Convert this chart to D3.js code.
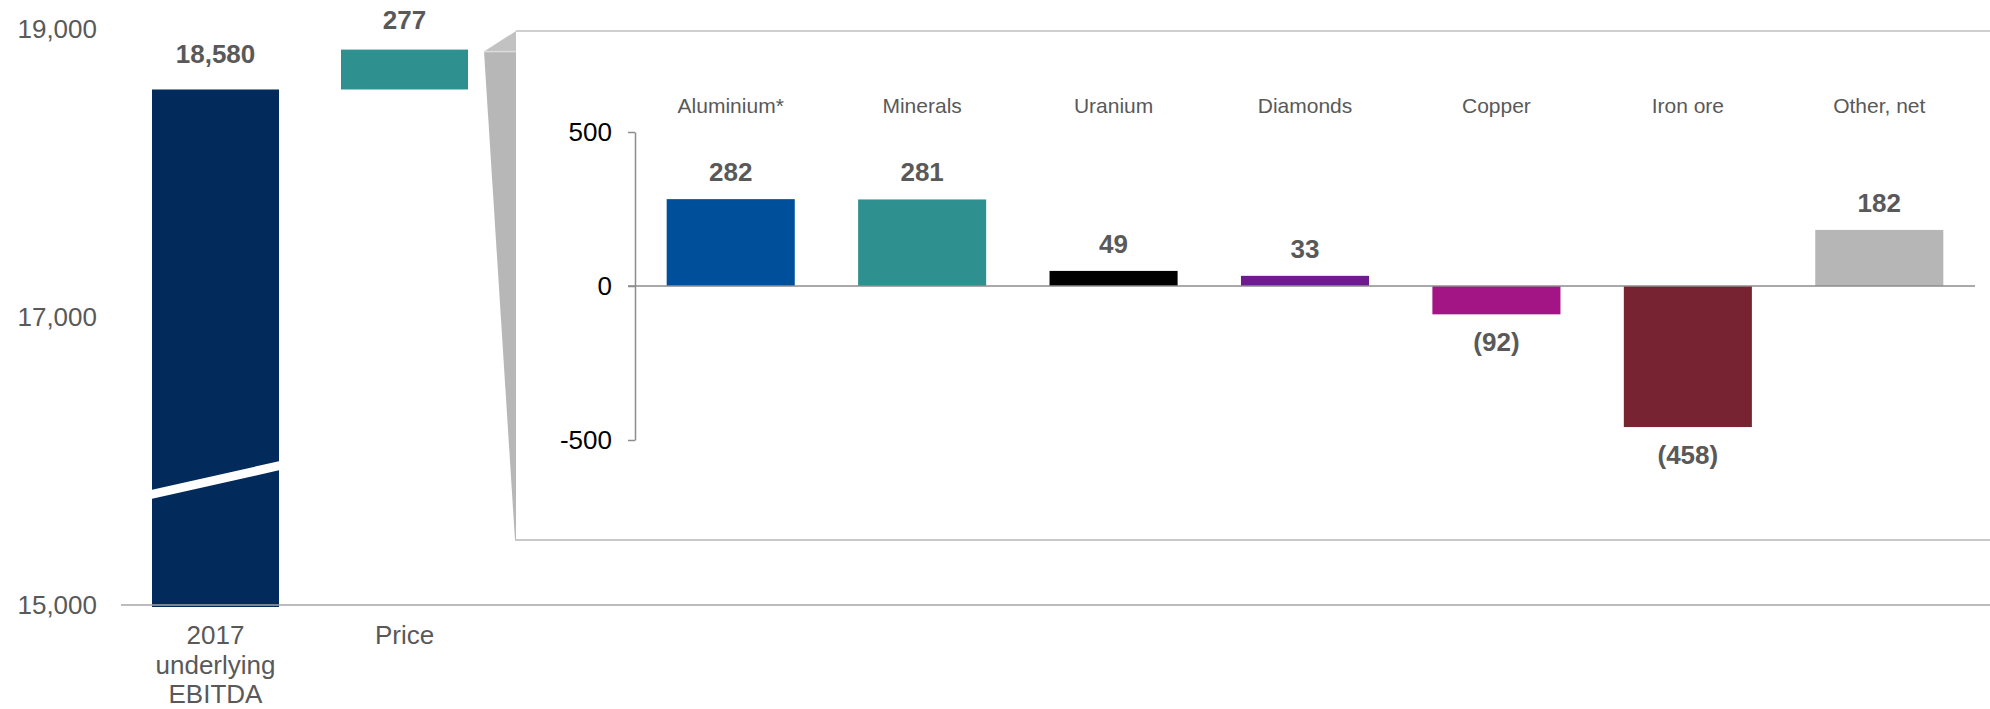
<!DOCTYPE html>
<html>
<head>
<meta charset="utf-8">
<script src="https://cdn.jsdelivr.net/npm/d3@7/dist/d3.min.js"></script>
<style>
  html, body { margin: 0; padding: 0; background: #fff; }
  svg { display: block; font-family: "Liberation Sans", Arial, sans-serif; }
</style>
</head>
<body>
<svg id="chart" width="1990" height="709"></svg>
<script>
// ---------- data ----------
const outerCategories = ["2017|underlying|EBITDA", "Price"];
const baseValue = 18580;
const priceDelta = 277;
const outerTicks = [15000, 17000, 19000];

const innerCategories = ["Aluminium*", "Minerals", "Uranium", "Diamonds", "Copper", "Iron ore", "Other, net"];
const innerValues = [282, 281, 49, 33, -92, -458, 182];
const innerColors = ["#004f9a", "#2e9190", "#000000", "#6e1b8f", "#a31485", "#772332", "#b6b6b6"];
const innerTicks = [-500, 0, 500];

// ---------- layout ----------
const W = 1990, H = 709;
const svg = d3.select("#chart");
const labelGrey = "#595959";
const fmt = d3.format(",");
const fmtSigned = v => v < 0 ? "(" + fmt(-v) + ")" : fmt(v);

// outer chart
const yOuter = d3.scaleLinear().domain([15000, 19000]).range([605, 29]);
const xOuter = d3.scaleBand().domain(outerCategories).range([121, 499])
  .paddingInner(0.328).paddingOuter(0.164);

// y axis labels (no line)
const gyo = svg.append("g").attr("transform", "translate(121,0)")
  .call(d3.axisLeft(yOuter).tickValues(outerTicks).tickFormat(fmt).tickSize(0).tickPadding(24));
gyo.select(".domain").remove();
gyo.selectAll("text").attr("fill", labelGrey).style("font-size", "26px")
  .style("font-family", "'Liberation Sans', Arial, sans-serif");

// base bar
const bx = xOuter(outerCategories[0]), bw = xOuter.bandwidth();
svg.append("rect")
  .attr("x", bx).attr("width", bw)
  .attr("y", yOuter(baseValue))
  .attr("height", yOuter(15000) - yOuter(baseValue) + 2)
  .attr("fill", "#022b5c");

// axis break band on base bar
const breakLeft = [15736, 15799], breakRight = [15937, 16000];
svg.append("polygon")
  .attr("points", [
    [bx - 1, yOuter(breakLeft[1])], [bx + bw + 1, yOuter(breakRight[1])],
    [bx + bw + 1, yOuter(breakRight[0])], [bx - 1, yOuter(breakLeft[0])]
  ].map(p => p.join(",")).join(" "))
  .attr("fill", "#fff");

// price bar
const px = xOuter(outerCategories[1]);
svg.append("rect")
  .attr("x", px).attr("width", bw)
  .attr("y", yOuter(baseValue + priceDelta))
  .attr("height", yOuter(baseValue) - yOuter(baseValue + priceDelta))
  .attr("fill", "#2e9190");

// outer value labels
svg.append("text").attr("x", bx + bw / 2).attr("y", yOuter(baseValue) - 26)
  .attr("text-anchor", "middle").attr("fill", labelGrey)
  .style("font-size", "26px").style("font-weight", "bold").text(fmt(baseValue));
svg.append("text").attr("x", px + bw / 2).attr("y", yOuter(baseValue + priceDelta) - 21)
  .attr("text-anchor", "middle").attr("fill", labelGrey)
  .style("font-size", "26px").style("font-weight", "bold").text(fmt(priceDelta));

// outer x axis line
svg.append("line").attr("x1", 121).attr("x2", W)
  .attr("y1", yOuter(15000)).attr("y2", yOuter(15000))
  .attr("stroke", "#a6a6a6").attr("stroke-width", 1.5);

// outer category labels
outerCategories.forEach(c => {
  const t = svg.append("text").attr("text-anchor", "middle").attr("fill", labelGrey)
    .style("font-size", "26px");
  c.split("|").forEach((line, i) => {
    t.append("tspan").attr("x", xOuter(c) + bw / 2).attr("y", 644 + i * 29.5).text(line);
  });
});

// ---------- connector + panel ----------
const panelLeft = 516, panelTop = 31, panelBottom = 540;
const connTopY = yOuter(baseValue + priceDelta) + 2;
const connLeftTop = px + bw + 16;
svg.append("polygon")
  .attr("points", [[connLeftTop, connTopY], [panelLeft, panelTop], [panelLeft, connTopY]]
    .map(p => p.join(",")).join(" "))
  .attr("fill", "#c2c2c2");
svg.append("polygon")
  .attr("points", [[connLeftTop, connTopY], [panelLeft, connTopY], [panelLeft, panelBottom], [panelLeft - 1, panelBottom]]
    .map(p => p.join(",")).join(" "))
  .attr("fill", "#b7b7b7");
svg.append("line").attr("x1", connLeftTop).attr("x2", panelLeft)
  .attr("y1", connTopY).attr("y2", connTopY).attr("stroke", "#dcdcdc").attr("stroke-width", 1.5);
svg.append("line").attr("x1", panelLeft).attr("x2", W).attr("y1", panelTop).attr("y2", panelTop)
  .attr("stroke", "#cfcfcf").attr("stroke-width", 2);
svg.append("line").attr("x1", panelLeft - 1).attr("x2", W).attr("y1", panelBottom).attr("y2", panelBottom)
  .attr("stroke", "#c8c8c8").attr("stroke-width", 2);

// ---------- inner chart ----------
const yInner = d3.scaleLinear().domain([-500, 500]).range([440, 132]);
const xInner = d3.scaleBand().domain(innerCategories).range([635, 1975])
  .paddingInner(0.331).paddingOuter(0.1655);

const gyi = svg.append("g").attr("transform", "translate(635,0)")
  .call(d3.axisLeft(yInner).tickValues(innerTicks).tickFormat(d => String(d)).tickSize(7).tickPadding(16).tickSizeOuter(0));
gyi.select(".domain").attr("stroke", "#8c8c8c").attr("stroke-width", 1.5);
gyi.selectAll(".tick line").attr("stroke", "#8c8c8c").attr("stroke-width", 1.5);
gyi.selectAll("text").attr("fill", "#000").style("font-size", "26px")
  .style("font-family", "'Liberation Sans', Arial, sans-serif");

svg.append("g").selectAll("rect").data(innerCategories).join("rect")
  .attr("x", d => xInner(d)).attr("width", xInner.bandwidth())
  .attr("y", (d, i) => yInner(Math.max(0, innerValues[i])))
  .attr("height", (d, i) => Math.abs(yInner(innerValues[i]) - yInner(0)))
  .attr("fill", (d, i) => innerColors[i]);

// zero line
svg.append("line").attr("x1", 628).attr("x2", 1975)
  .attr("y1", yInner(0)).attr("y2", yInner(0))
  .attr("stroke", "#8c8c8c").attr("stroke-width", 1.5);

// value labels
svg.append("g").selectAll("text").data(innerCategories).join("text")
  .attr("x", d => xInner(d) + xInner.bandwidth() / 2)
  .attr("y", (d, i) => innerValues[i] >= 0 ? yInner(innerValues[i]) - 18 : yInner(innerValues[i]) + 37)
  .attr("text-anchor", "middle").attr("fill", labelGrey)
  .style("font-size", "26px").style("font-weight", "bold")
  .text((d, i) => fmtSigned(innerValues[i]));

// category labels
svg.append("g").selectAll("text").data(innerCategories).join("text")
  .attr("x", d => xInner(d) + xInner.bandwidth() / 2)
  .attr("y", 113)
  .attr("text-anchor", "middle").attr("fill", labelGrey)
  .style("font-size", "21px")
  .text(d => d);
</script>
</body>
</html>
